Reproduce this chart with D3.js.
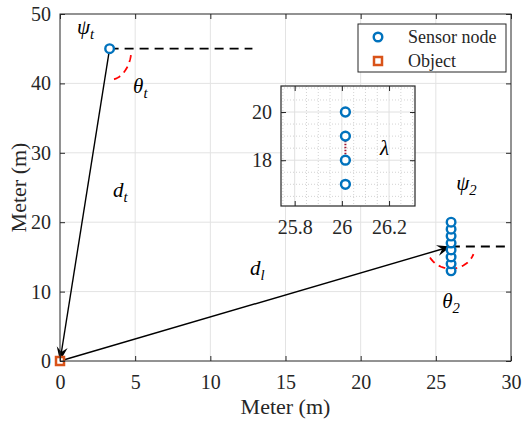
<!DOCTYPE html>
<html>
<head>
<meta charset="utf-8">
<style>
  body { margin: 0; background: #fff; }
  text { font-family: "Liberation Serif", "Times New Roman", serif; fill: #262626; }
  .sym { font-style: italic; fill: #000; }
</style>
</head>
<body>
<div id="chart"></div>
<script src="https://cdn.jsdelivr.net/npm/d3@7"></script>
<script>
// ---- data ----
const xTicks = [0, 5, 10, 15, 20, 25, 30];
const yTicks = [0, 10, 20, 30, 40, 50];
const sensorX = 26.015;
const arrayY = [13, 14, 15, 16, 17, 18, 19, 20];
const targetNode = [3.3, 45];
const objectPos = [0, 0];
const arrayRef = [26, 16.5];     // where d_l arrives
const dashEndT = 12.8;           // end of dashed reference at psi_t
const dashEnd2 = 29.8;           // end of dashed reference at psi_2
const insetXTicks = [25.8, 26, 26.2];
const insetYTicks = [18, 20];
const insetY = [17, 18, 19, 20];
const lambdaSpan = [18, 19];
const legendNames = ['Sensor node', 'Object'];

const W = 529, H = 423;
const margin = { top: 14, right: 18, bottom: 62, left: 60 };
const width = W - margin.left - margin.right;
const height = H - margin.top - margin.bottom;
const blue = '#0072BD', orange = '#D95319';

const svg = d3.select('#chart').append('svg')
  .attr('width', W).attr('height', H);

const defs = svg.append('defs');
defs.append('marker')
  .attr('id', 'arr')
  .attr('markerUnits', 'userSpaceOnUse')
  .attr('viewBox', '-14 -7 16 14')
  .attr('markerWidth', 16).attr('markerHeight', 14)
  .attr('refX', 0).attr('refY', 0)
  .attr('orient', 'auto')
  .append('path')
  .attr('d', 'M0,0 L-14,-5.5 L-9,0 L-14,5.5 Z')
  .attr('fill', '#000');

const g = svg.append('g').attr('transform', `translate(${margin.left},${margin.top})`);

const x = d3.scaleLinear().domain([0, 30]).range([0, width]);
const y = d3.scaleLinear().domain([0, 50]).range([height, 0]);

// grid
g.append('g').selectAll('line').data(xTicks.slice(1, -1)).join('line')
  .attr('x1', d => x(d)).attr('x2', d => x(d)).attr('y1', 0).attr('y2', height)
  .attr('stroke', '#e3e3e3').attr('stroke-width', 1);
g.append('g').selectAll('line').data(yTicks.slice(1, -1)).join('line')
  .attr('y1', d => y(d)).attr('y2', d => y(d)).attr('x1', 0).attr('x2', width)
  .attr('stroke', '#e3e3e3').attr('stroke-width', 1);

// angle arcs (ellipse in pixel space)
function arcPath(cx, cy, rx, ry, t0, t1) {
  const pts = d3.range(0, 41).map(i => {
    const t = (t0 + (t1 - t0) * i / 40) * Math.PI / 180;
    return [cx + rx * Math.cos(t), cy + ry * Math.sin(t)];
  });
  return d3.line()(pts);
}
g.append('path')
  .attr('d', arcPath(x(targetNode[0]), y(targetNode[1]), x(1.45) - x(0), y(0) - y(4.5), 12, 87))
  .attr('fill', 'none').attr('stroke', '#ff0000').attr('stroke-width', 1.8)
  .attr('stroke-dasharray', '7,5');
g.append('path')
  .attr('d', arcPath(x(arrayRef[0]), y(arrayRef[1]), x(1.6) - x(0), y(0) - y(3.2), 150, 20))
  .attr('fill', 'none').attr('stroke', '#ff0000').attr('stroke-width', 1.8)
  .attr('stroke-dasharray', '7,5');

// dashed horizontal references
g.append('line')
  .attr('x1', x(targetNode[0])).attr('x2', x(dashEndT))
  .attr('y1', y(targetNode[1])).attr('y2', y(targetNode[1]))
  .attr('stroke', '#000').attr('stroke-width', 1.8).attr('stroke-dasharray', '9,6');
g.append('line')
  .attr('x1', x(arrayRef[0])).attr('x2', x(dashEnd2))
  .attr('y1', y(arrayRef[1])).attr('y2', y(arrayRef[1]))
  .attr('stroke', '#000').attr('stroke-width', 1.8).attr('stroke-dasharray', '9,6');

// arrows d_t and d_l
g.append('line')
  .attr('x1', x(targetNode[0])).attr('y1', y(targetNode[1]))
  .attr('x2', x(objectPos[0])).attr('y2', y(objectPos[1]))
  .attr('stroke', '#000').attr('stroke-width', 1.4).attr('marker-end', 'url(#arr)');
g.append('line')
  .attr('x1', x(objectPos[0])).attr('y1', y(objectPos[1]))
  .attr('x2', x(arrayRef[0])).attr('y2', y(arrayRef[1]))
  .attr('stroke', '#000').attr('stroke-width', 1.4).attr('marker-end', 'url(#arr)');

// sensor nodes
g.append('g').selectAll('circle').data(arrayY).join('circle')
  .attr('cx', x(sensorX)).attr('cy', d => y(d)).attr('r', 4.3)
  .attr('fill', '#fff').attr('stroke', blue).attr('stroke-width', 2.4);
g.append('circle')
  .attr('cx', x(targetNode[0])).attr('cy', y(targetNode[1])).attr('r', 4.3)
  .attr('fill', '#fff').attr('stroke', blue).attr('stroke-width', 2.4);

// object
g.append('rect')
  .attr('x', x(objectPos[0]) - 4).attr('y', y(objectPos[1]) - 4)
  .attr('width', 8).attr('height', 8)
  .attr('fill', '#fff').attr('stroke', orange).attr('stroke-width', 2.5);

// symbol labels
function symLabel(parent, px, py, main, sub, size) {
  const t = parent.append('text').attr('class', 'sym')
    .attr('x', px).attr('y', py).style('font-size', size + 'px');
  t.append('tspan').text(main);
  if (sub) t.append('tspan').attr('dy', 5).style('font-size', (size * 0.7) + 'px').text(sub);
}
symLabel(g, x(1.13), y(47.1), 'ψ', 't', 21);
symLabel(g, x(4.86), y(38.6), 'θ', 't', 21);
symLabel(g, x(3.53), y(23.6), 'd', 't', 21);
symLabel(g, x(12.64), y(12.4), 'd', 'l', 21);
symLabel(g, x(26.35), y(24.6), 'ψ', '2', 21);
symLabel(g, x(25.42), y(7.6), 'θ', '2', 21);

// main axes: box + inward ticks
g.append('rect').attr('width', width).attr('height', height)
  .attr('fill', 'none').attr('stroke', '#262626').attr('stroke-width', 1);
const tl = 5;
g.append('g').attr('transform', `translate(0,${height})`)
  .call(d3.axisBottom(x).tickValues(xTicks).tickSize(-tl).tickPadding(9 + tl))
  .call(a => a.select('.domain').remove())
  .call(a => a.selectAll('text').style('font-size', '20px').attr('fill', '#262626'));
g.append('g')
  .call(d3.axisTop(x).tickValues(xTicks).tickSize(-tl).tickFormat(''))
  .call(a => a.select('.domain').remove());
g.append('g')
  .call(d3.axisLeft(y).tickValues(yTicks).tickSize(-tl).tickPadding(4 + tl))
  .call(a => a.select('.domain').remove())
  .call(a => a.selectAll('text').style('font-size', '20px').attr('fill', '#262626'));
g.append('g').attr('transform', `translate(${width},0)`)
  .call(d3.axisRight(y).tickValues(yTicks).tickSize(-tl).tickFormat(''))
  .call(a => a.select('.domain').remove());
g.selectAll('.tick line').attr('stroke', '#262626');

svg.append('text').attr('x', margin.left + width / 2).attr('y', 414)
  .attr('text-anchor', 'middle').style('font-size', '22px').text('Meter (m)');
svg.append('text').attr('transform', `translate(26,${margin.top + height / 2}) rotate(-90)`)
  .attr('text-anchor', 'middle').style('font-size', '22px').text('Meter (m)');

// ---- inset ----
const ins = { x: 281, y: 86, w: 134, h: 120 };
const ix = d3.scaleLinear().domain([25.742, 26.31]).range([0, ins.w]);
const iy = d3.scaleLinear().domain([16.1, 21.08]).range([ins.h, 0]);
const gi = svg.append('g').attr('transform', `translate(${ins.x},${ins.y})`);
gi.append('rect').attr('width', ins.w).attr('height', ins.h).attr('fill', '#fff');

const xMinor = d3.range(25.75, 26.31, 0.05).filter(v => !insetXTicks.some(t => Math.abs(t - v) < 1e-6));
const yMinor = d3.range(16.5, 21.01, 0.5).filter(v => !insetYTicks.some(t => Math.abs(t - v) < 1e-6));
gi.append('g').selectAll('line').data(xMinor).join('line')
  .attr('x1', d => ix(d)).attr('x2', d => ix(d)).attr('y1', 0).attr('y2', ins.h)
  .attr('stroke', '#c8c8c8').attr('stroke-width', 0.8).attr('stroke-dasharray', '1,2');
gi.append('g').selectAll('line').data(yMinor).join('line')
  .attr('y1', d => iy(d)).attr('y2', d => iy(d)).attr('x1', 0).attr('x2', ins.w)
  .attr('stroke', '#c8c8c8').attr('stroke-width', 0.8).attr('stroke-dasharray', '1,2');
gi.append('g').selectAll('line').data(insetXTicks).join('line')
  .attr('x1', d => ix(d)).attr('x2', d => ix(d)).attr('y1', 0).attr('y2', ins.h)
  .attr('stroke', '#e0e0e0').attr('stroke-width', 1);
gi.append('g').selectAll('line').data(insetYTicks).join('line')
  .attr('y1', d => iy(d)).attr('y2', d => iy(d)).attr('x1', 0).attr('x2', ins.w)
  .attr('stroke', '#e0e0e0').attr('stroke-width', 1);

gi.append('line')
  .attr('x1', ix(sensorX)).attr('x2', ix(sensorX))
  .attr('y1', iy(lambdaSpan[0])).attr('y2', iy(lambdaSpan[1]))
  .attr('stroke', '#A2142F').attr('stroke-width', 2).attr('stroke-dasharray', '1.5,1.5');
gi.append('g').selectAll('circle').data(insetY).join('circle')
  .attr('cx', ix(sensorX)).attr('cy', d => iy(d)).attr('r', 4.4)
  .attr('fill', '#fff').attr('stroke', blue).attr('stroke-width', 2.5);
gi.append('text').attr('class', 'sym').attr('x', ix(26.162)).attr('y', iy(18.21))
  .style('font-size', '21px').text('λ');

gi.append('rect').attr('width', ins.w).attr('height', ins.h)
  .attr('fill', 'none').attr('stroke', '#262626').attr('stroke-width', 1.2);
gi.append('g').attr('transform', `translate(0,${ins.h})`)
  .call(d3.axisBottom(ix).tickValues(insetXTicks).tickSize(-tl).tickPadding(9 + tl).tickFormat(d3.format('')))
  .call(a => a.select('.domain').remove())
  .call(a => a.selectAll('text').style('font-size', '20px').attr('fill', '#262626'));
gi.append('g')
  .call(d3.axisTop(ix).tickValues(insetXTicks).tickSize(-tl).tickFormat(''))
  .call(a => a.select('.domain').remove());
gi.append('g')
  .call(d3.axisLeft(iy).tickValues(insetYTicks).tickSize(-tl).tickPadding(4 + tl).tickFormat(d3.format('')))
  .call(a => a.select('.domain').remove())
  .call(a => a.selectAll('text').style('font-size', '20px').attr('fill', '#262626'));
gi.append('g').attr('transform', `translate(${ins.w},0)`)
  .call(d3.axisRight(iy).tickValues(insetYTicks).tickSize(-tl).tickFormat(''))
  .call(a => a.select('.domain').remove());
gi.selectAll('.tick line').attr('stroke', '#262626');

// ---- legend ----
const lg = svg.append('g').attr('transform', 'translate(358,24)');
lg.append('rect').attr('width', 148).attr('height', 48)
  .attr('fill', '#fff').attr('stroke', '#262626').attr('stroke-width', 1);
const rows = lg.selectAll('g.row').data(legendNames).join('g')
  .attr('class', 'row').attr('transform', (d, i) => `translate(0,${13 + i * 24})`);
rows.each(function (d, i) {
  const r = d3.select(this);
  if (i === 0) {
    r.append('circle').attr('cx', 20).attr('cy', 0).attr('r', 4.3)
      .attr('fill', '#fff').attr('stroke', blue).attr('stroke-width', 2.4);
  } else {
    r.append('rect').attr('x', 16).attr('y', -4).attr('width', 8).attr('height', 8)
      .attr('fill', '#fff').attr('stroke', orange).attr('stroke-width', 2.5);
  }
  r.append('text').attr('x', 50).attr('y', 6).style('font-size', '18px').attr('fill', '#000').text(d);
});
</script>
</body>
</html>
